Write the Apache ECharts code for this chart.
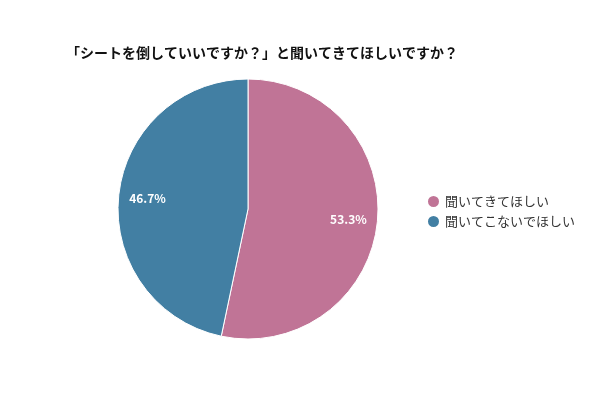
<!DOCTYPE html>
<html>
<head>
<meta charset="utf-8">
<script src="https://cdn.jsdelivr.net/npm/echarts@6/dist/echarts.min.js"></script>
<style>
  html, body { margin: 0; padding: 0; background: #fff; }
  #chart { width: 600px; height: 400px; }
</style>
</head>
<body>
<div id="chart"></div>
<script>
// データ
const categories = ["聞いてきてほしい", "聞いてこないでほしい"];
const values = [53.3, 46.7];
const colors = ["#C07496", "#427FA3"];

const chart = echarts.init(document.getElementById("chart"));
const FONT = '"Noto Sans CJK JP", "Noto Sans", sans-serif';

const pieData = categories.map((name, i) => ({ name: name, value: values[i] }));

const option = {
  textStyle: { fontFamily: FONT },
  title: {
    text: "「シートを倒していいですか？」と聞いてきてほしいですか？",
    left: 61,
    top: 41,
    textStyle: { fontSize: 14, fontWeight: "bold", color: "#111", fontFamily: FONT },
  },
  color: colors,
  legend: {
    orient: "vertical",
    left: 421,
    top: 189,
    icon: "circle",
    itemWidth: 13,
    itemHeight: 13,
    itemGap: 5,
    textStyle: { fontSize: 13, color: "#333", fontFamily: FONT },
    data: categories,
  },
  series: [
    {
      type: "pie",
      center: [248, 209],
      radius: [0, 130],
      startAngle: 90,
      clockwise: true,
      silent: true,
      itemStyle: { borderColor: "#fff", borderWidth: 1 },
      label: { show: false },
      labelLine: { show: false },
      data: pieData,
    },
    {
      // ラベル用の透明リング
      type: "pie",
      center: [248, 209],
      radius: [66, 130],
      startAngle: 90,
      clockwise: true,
      silent: true,
      legendHoverLink: false,
      itemStyle: { color: "transparent" },
      label: {
        show: true,
        position: "inside",
        formatter: (p) => p.value.toFixed(1) + "%",
        color: "#fff",
        fontSize: 12,
        fontWeight: "bold",
        fontFamily: FONT,
      },
      labelLine: { show: false },
      data: pieData,
    },
  ],
};

chart.setOption(option);
</script>
</body>
</html>
